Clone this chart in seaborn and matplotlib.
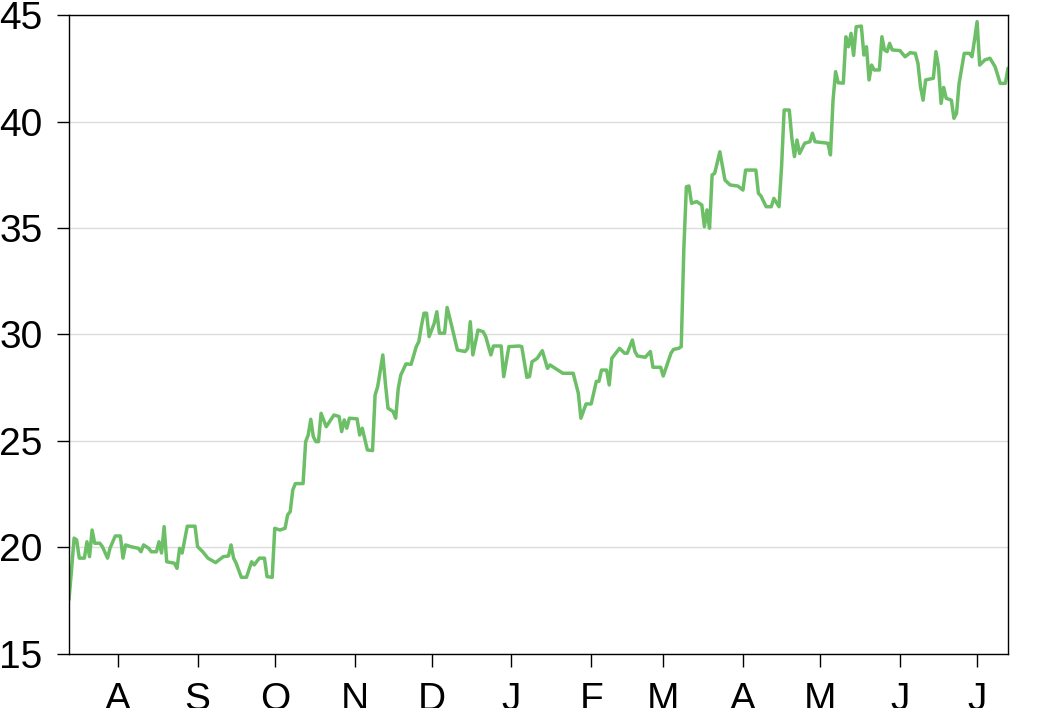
# Serie de precio diaria (jul 2016 - jul 2017) como linea verde simple.

import matplotlib

matplotlib.use('Agg')

import matplotlib.pyplot as plt
import matplotlib.dates as mdates
import pandas as pd
import seaborn as sns

dates = [
    '2016-07-13', '2016-07-14', '2016-07-15', '2016-07-16', '2016-07-17',
    '2016-07-19', '2016-07-20', '2016-07-21', '2016-07-22', '2016-07-23',
    '2016-07-25', '2016-07-26', '2016-07-28', '2016-07-29', '2016-07-31',
    '2016-08-02', '2016-08-03', '2016-08-04', '2016-08-06', '2016-08-09',
    '2016-08-10', '2016-08-11', '2016-08-13', '2016-08-14', '2016-08-16',
    '2016-08-17', '2016-08-18', '2016-08-19', '2016-08-20', '2016-08-23',
    '2016-08-24', '2016-08-25', '2016-08-26', '2016-08-28', '2016-08-31',
    '2016-09-01', '2016-09-03', '2016-09-05', '2016-09-08', '2016-09-11',
    '2016-09-13', '2016-09-14', '2016-09-15', '2016-09-16', '2016-09-18',
    '2016-09-20', '2016-09-22', '2016-09-23', '2016-09-25', '2016-09-27',
    '2016-09-28', '2016-09-30', '2016-10-01', '2016-10-03', '2016-10-05',
    '2016-10-06', '2016-10-07', '2016-10-08', '2016-10-09', '2016-10-12',
    '2016-10-13', '2016-10-14', '2016-10-15', '2016-10-16', '2016-10-17',
    '2016-10-18', '2016-10-19', '2016-10-21', '2016-10-24', '2016-10-26',
    '2016-10-27', '2016-10-28', '2016-10-29', '2016-10-30', '2016-11-02',
    '2016-11-03', '2016-11-04', '2016-11-06', '2016-11-08', '2016-11-09',
    '2016-11-10', '2016-11-12', '2016-11-13', '2016-11-14', '2016-11-16',
    '2016-11-17', '2016-11-18', '2016-11-19', '2016-11-21', '2016-11-23',
    '2016-11-25', '2016-11-26', '2016-11-27', '2016-11-28', '2016-11-29',
    '2016-11-30', '2016-12-02', '2016-12-03', '2016-12-04', '2016-12-06',
    '2016-12-07', '2016-12-09', '2016-12-11', '2016-12-14', '2016-12-15',
    '2016-12-16', '2016-12-17', '2016-12-19', '2016-12-21', '2016-12-22',
    '2016-12-24', '2016-12-25', '2016-12-28', '2016-12-29', '2016-12-31',
    '2017-01-04', '2017-01-05', '2017-01-07', '2017-01-08', '2017-01-09',
    '2017-01-11', '2017-01-13', '2017-01-15', '2017-01-16', '2017-01-18',
    '2017-01-21', '2017-01-25', '2017-01-26', '2017-01-27', '2017-01-28',
    '2017-01-30', '2017-02-01', '2017-02-03', '2017-02-04', '2017-02-05',
    '2017-02-07', '2017-02-08', '2017-02-09', '2017-02-12', '2017-02-14',
    '2017-02-15', '2017-02-17', '2017-02-18', '2017-02-19', '2017-02-22',
    '2017-02-24', '2017-02-25', '2017-02-28', '2017-03-01', '2017-03-04',
    '2017-03-05', '2017-03-07', '2017-03-08', '2017-03-09', '2017-03-10',
    '2017-03-11', '2017-03-12', '2017-03-14', '2017-03-16', '2017-03-17',
    '2017-03-18', '2017-03-19', '2017-03-20', '2017-03-21', '2017-03-23',
    '2017-03-25', '2017-03-27', '2017-03-30', '2017-04-01', '2017-04-02',
    '2017-04-06', '2017-04-07', '2017-04-08', '2017-04-10', '2017-04-12',
    '2017-04-13', '2017-04-15', '2017-04-16', '2017-04-17', '2017-04-19',
    '2017-04-20', '2017-04-21', '2017-04-22', '2017-04-23', '2017-04-25',
    '2017-04-27', '2017-04-28', '2017-04-29', '2017-05-04', '2017-05-05',
    '2017-05-06', '2017-05-07', '2017-05-08', '2017-05-10', '2017-05-11',
    '2017-05-12', '2017-05-13', '2017-05-14', '2017-05-15', '2017-05-17',
    '2017-05-18', '2017-05-19', '2017-05-20', '2017-05-21', '2017-05-22',
    '2017-05-24', '2017-05-25', '2017-05-26', '2017-05-27', '2017-05-28',
    '2017-05-29', '2017-06-01', '2017-06-03', '2017-06-05', '2017-06-07',
    '2017-06-08', '2017-06-09', '2017-06-10', '2017-06-11', '2017-06-14',
    '2017-06-15', '2017-06-16', '2017-06-17', '2017-06-18', '2017-06-19',
    '2017-06-21', '2017-06-22', '2017-06-23', '2017-06-24', '2017-06-26',
    '2017-06-28', '2017-06-29', '2017-06-30', '2017-07-01', '2017-07-02',
    '2017-07-04', '2017-07-06', '2017-07-08', '2017-07-10', '2017-07-12',
    '2017-07-13',
]

prices = [
    17.54, 18.94, 20.44, 20.35, 19.50,
    19.50, 20.27, 19.57, 20.82, 20.20,
    20.20, 20.04, 19.50, 19.98, 20.54,
    20.54, 19.50, 20.12, 20.04, 19.96,
    19.80, 20.12, 19.96, 19.80, 19.80,
    20.27, 19.74, 20.98, 19.33, 19.26,
    19.02, 19.96, 19.74, 21.00, 21.00,
    20.04, 19.80, 19.50, 19.29, 19.57,
    19.60, 20.12, 19.50, 19.26, 18.60,
    18.60, 19.33, 19.18, 19.50, 19.50,
    18.63, 18.60, 20.90, 20.82, 20.90,
    21.53, 21.68, 22.70, 23.00, 23.00,
    24.97, 25.28, 26.02, 25.20, 24.97,
    24.97, 26.30, 25.67, 26.22, 26.15,
    25.44, 25.99, 25.60, 26.07, 26.04,
    25.28, 25.60, 24.58, 24.55, 27.16,
    27.55, 29.04, 27.71, 26.54, 26.38,
    26.07, 27.47, 28.10, 28.62, 28.60,
    29.43, 29.67, 30.40, 31.00, 31.00,
    29.90, 30.53, 31.07, 30.06, 30.06,
    31.27, 30.29, 29.27, 29.20, 29.35,
    30.60, 29.04, 30.21, 30.13, 29.90,
    29.04, 29.46, 29.46, 28.02, 29.43,
    29.46, 29.43, 27.99, 28.02, 28.72,
    28.88, 29.24, 28.41, 28.57, 28.41,
    28.18, 28.18, 27.71, 27.24, 26.07,
    26.74, 26.74, 27.80, 27.80, 28.33,
    28.33, 27.63, 28.88, 29.35, 29.12,
    29.12, 29.74, 29.20, 28.99, 28.93,
    29.20, 28.46, 28.46, 28.05, 29.12,
    29.30, 29.35, 29.43, 34.00, 36.94,
    36.97, 36.16, 36.24, 36.08, 35.06,
    35.85, 34.99, 37.49, 37.57, 38.58,
    37.25, 37.02, 36.97, 36.78, 37.72,
    37.72, 36.63, 36.50, 36.00, 36.00,
    36.39, 36.00, 37.88, 40.54, 40.54,
    39.21, 38.35, 39.13, 38.50, 38.98,
    39.05, 39.45, 39.05, 38.98, 38.43,
    41.00, 42.34, 41.82, 41.80, 43.98,
    43.51, 44.14, 43.10, 44.45, 44.48,
    43.12, 43.51, 41.95, 42.65, 42.42,
    42.42, 43.98, 43.36, 43.28, 43.67,
    43.36, 43.33, 43.04, 43.23, 43.20,
    42.73, 41.63, 41.00, 41.95, 42.03,
    43.28, 42.57, 40.85, 41.60, 41.09,
    41.00, 40.15, 40.38, 41.79, 43.20,
    43.20, 43.04, 43.83, 44.69, 42.65,
    42.89, 42.97, 42.57, 41.79, 41.79,
    42.50,
]

y_ticks = [15, 20, 25, 30, 35, 40, 45]

line_color = '#6cbf66'

df = pd.DataFrame({
    'fecha': pd.to_datetime(dates),
    'precio': prices,
})

sns.set_style('white')

plt.rcParams['font.family'] = ['Liberation Sans', 'DejaVu Sans']

fig = plt.figure(
    figsize=(10.4, 7.08),
    dpi=100,
)

ax = fig.add_axes([0.0663, 0.0763, 0.9029, 0.9025])

sns.lineplot(
    data=df,
    x='fecha',
    y='precio',
    color=line_color,
    linewidth=2.5,
    estimator=None,
    ax=ax,
)

for line in ax.get_lines():
    line.set_solid_joinstyle('round')

ax.set_xlim(pd.Timestamp('2016-07-13'), pd.Timestamp('2017-07-13'))
ax.set_ylim(15, 45)

ax.set_yticks(y_ticks)
ax.yaxis.grid(True, color='#dcdcdc', linewidth=1)
ax.xaxis.grid(False)

# Meses como inicial: A S O N D J F M A M J J
ax.xaxis.set_major_locator(mdates.MonthLocator())
ax.xaxis.set_major_formatter(
    matplotlib.ticker.FuncFormatter(
        lambda v, pos: mdates.num2date(v).strftime('%b')[0]
    )
)

ax.tick_params(
    axis='both',
    which='major',
    length=9,
    width=1,
    color='black',
    labelsize=28,
    labelcolor='black',
)
ax.tick_params(axis='x', pad=11, bottom=True)
ax.tick_params(axis='y', pad=10, left=True)

for spine in ax.spines.values():
    spine.set_color('black')
    spine.set_linewidth(1)
    spine.set_visible(True)

ax.set_xlabel('')
ax.set_ylabel('')

fig.savefig('out.png', dpi=100)

plt.close()
